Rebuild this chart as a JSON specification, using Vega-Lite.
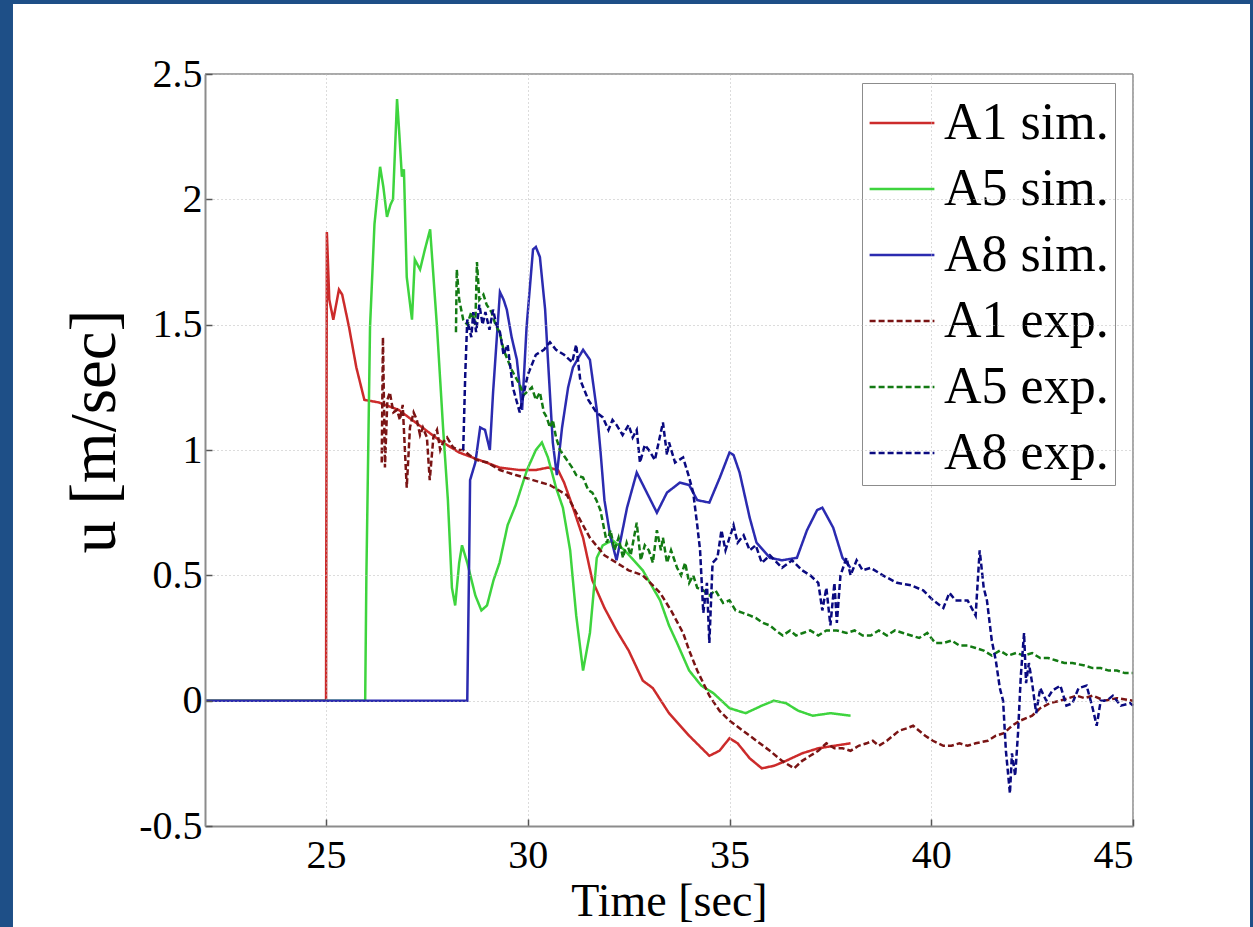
{
  "$schema": "https://vega.github.io/schema/vega-lite/v6.json",
  "width": 928,
  "height": 752,
  "autosize": "none",
  "padding": {"left": 205, "top": 74, "right": 120, "bottom": 101},
  "background": "#1e4f87",
  "config": {
    "view": {"stroke": null},
    "font": "Liberation Serif",
    "axis": {
      "domainColor": "#8c8c8c", "domainWidth": 2,
      "tickColor": "#555555", "tickSize": -7, "tickWidth": 1.5,
      "gridColor": "#b8b8b8", "gridDash": [1, 3], "gridWidth": 1,
      "labelFont": "Liberation Serif", "labelFontSize": 40, "labelColor": "#000000",
      "titleFont": "Liberation Serif", "titleFontWeight": "normal", "titleColor": "#000000"
    },
    "legend": {"labelFont": "Liberation Serif"}
  },
  "datasets": {
    "pts": [
      {"t":22,"u":0,"s":"A1 sim."},{"t":25.0,"u":0,"s":"A1 sim."},{"t":25.02,"u":1.87,"s":"A1 sim."},{"t":25.08,"u":1.6,"s":"A1 sim."},{"t":25.18,"u":1.52,"s":"A1 sim."},{"t":25.32,"u":1.64,"s":"A1 sim."},{"t":25.4,"u":1.62,"s":"A1 sim."},{"t":25.57,"u":1.49,"s":"A1 sim."},{"t":25.75,"u":1.33,"s":"A1 sim."},{"t":25.95,"u":1.2,"s":"A1 sim."},{"t":26.3,"u":1.19,"s":"A1 sim."},{"t":26.8,"u":1.16,"s":"A1 sim."},{"t":27.3,"u":1.1,"s":"A1 sim."},{"t":27.8,"u":1.04,"s":"A1 sim."},{"t":28.3,"u":0.99,"s":"A1 sim."},{"t":28.8,"u":0.96,"s":"A1 sim."},{"t":29.3,"u":0.93,"s":"A1 sim."},{"t":29.8,"u":0.92,"s":"A1 sim."},{"t":30.2,"u":0.92,"s":"A1 sim."},{"t":30.5,"u":0.93,"s":"A1 sim."},{"t":30.75,"u":0.92,"s":"A1 sim."},{"t":30.9,"u":0.87,"s":"A1 sim."},{"t":31.1,"u":0.78,"s":"A1 sim."},{"t":31.37,"u":0.65,"s":"A1 sim."},{"t":31.6,"u":0.48,"s":"A1 sim."},{"t":31.9,"u":0.37,"s":"A1 sim."},{"t":32.2,"u":0.28,"s":"A1 sim."},{"t":32.5,"u":0.2,"s":"A1 sim."},{"t":32.85,"u":0.08,"s":"A1 sim."},{"t":33.1,"u":0.05,"s":"A1 sim."},{"t":33.5,"u":-0.05,"s":"A1 sim."},{"t":34.0,"u":-0.14,"s":"A1 sim."},{"t":34.5,"u":-0.22,"s":"A1 sim."},{"t":34.75,"u":-0.2,"s":"A1 sim."},{"t":35.0,"u":-0.15,"s":"A1 sim."},{"t":35.2,"u":-0.17,"s":"A1 sim."},{"t":35.5,"u":-0.23,"s":"A1 sim."},{"t":35.8,"u":-0.27,"s":"A1 sim."},{"t":36.1,"u":-0.26,"s":"A1 sim."},{"t":36.4,"u":-0.24,"s":"A1 sim."},{"t":36.8,"u":-0.21,"s":"A1 sim."},{"t":37.2,"u":-0.19,"s":"A1 sim."},{"t":37.6,"u":-0.18,"s":"A1 sim."},{"t":38.0,"u":-0.17,"s":"A1 sim."},

      {"t":22,"u":0,"s":"A5 sim."},{"t":25.97,"u":0,"s":"A5 sim."},{"t":26.0,"u":0.5,"s":"A5 sim."},{"t":26.09,"u":1.49,"s":"A5 sim."},{"t":26.2,"u":1.9,"s":"A5 sim."},{"t":26.34,"u":2.13,"s":"A5 sim."},{"t":26.42,"u":2.05,"s":"A5 sim."},{"t":26.51,"u":1.93,"s":"A5 sim."},{"t":26.6,"u":1.98,"s":"A5 sim."},{"t":26.66,"u":2.0,"s":"A5 sim."},{"t":26.76,"u":2.4,"s":"A5 sim."},{"t":26.82,"u":2.25,"s":"A5 sim."},{"t":26.88,"u":2.09,"s":"A5 sim."},{"t":26.93,"u":2.12,"s":"A5 sim."},{"t":27.0,"u":1.69,"s":"A5 sim."},{"t":27.13,"u":1.52,"s":"A5 sim."},{"t":27.2,"u":1.76,"s":"A5 sim."},{"t":27.33,"u":1.72,"s":"A5 sim."},{"t":27.45,"u":1.8,"s":"A5 sim."},{"t":27.58,"u":1.88,"s":"A5 sim."},{"t":27.75,"u":1.49,"s":"A5 sim."},{"t":27.9,"u":1.09,"s":"A5 sim."},{"t":28.02,"u":0.8,"s":"A5 sim."},{"t":28.12,"u":0.45,"s":"A5 sim."},{"t":28.2,"u":0.38,"s":"A5 sim."},{"t":28.3,"u":0.55,"s":"A5 sim."},{"t":28.37,"u":0.62,"s":"A5 sim."},{"t":28.5,"u":0.55,"s":"A5 sim."},{"t":28.7,"u":0.42,"s":"A5 sim."},{"t":28.85,"u":0.36,"s":"A5 sim."},{"t":28.99,"u":0.38,"s":"A5 sim."},{"t":29.15,"u":0.48,"s":"A5 sim."},{"t":29.3,"u":0.55,"s":"A5 sim."},{"t":29.5,"u":0.7,"s":"A5 sim."},{"t":29.7,"u":0.78,"s":"A5 sim."},{"t":29.98,"u":0.92,"s":"A5 sim."},{"t":30.2,"u":1.0,"s":"A5 sim."},{"t":30.35,"u":1.03,"s":"A5 sim."},{"t":30.5,"u":0.97,"s":"A5 sim."},{"t":30.7,"u":0.85,"s":"A5 sim."},{"t":30.87,"u":0.77,"s":"A5 sim."},{"t":31.05,"u":0.6,"s":"A5 sim."},{"t":31.2,"u":0.34,"s":"A5 sim."},{"t":31.37,"u":0.12,"s":"A5 sim."},{"t":31.54,"u":0.27,"s":"A5 sim."},{"t":31.71,"u":0.57,"s":"A5 sim."},{"t":31.86,"u":0.62,"s":"A5 sim."},{"t":32.1,"u":0.64,"s":"A5 sim."},{"t":32.4,"u":0.6,"s":"A5 sim."},{"t":32.85,"u":0.52,"s":"A5 sim."},{"t":33.28,"u":0.4,"s":"A5 sim."},{"t":33.5,"u":0.3,"s":"A5 sim."},{"t":33.7,"u":0.23,"s":"A5 sim."},{"t":34.0,"u":0.12,"s":"A5 sim."},{"t":34.3,"u":0.06,"s":"A5 sim."},{"t":34.6,"u":0.03,"s":"A5 sim."},{"t":35.0,"u":-0.03,"s":"A5 sim."},{"t":35.4,"u":-0.05,"s":"A5 sim."},{"t":35.8,"u":-0.02,"s":"A5 sim."},{"t":36.1,"u":0.0,"s":"A5 sim."},{"t":36.4,"u":-0.01,"s":"A5 sim."},{"t":36.7,"u":-0.04,"s":"A5 sim."},{"t":37.06,"u":-0.06,"s":"A5 sim."},{"t":37.5,"u":-0.05,"s":"A5 sim."},{"t":38.0,"u":-0.06,"s":"A5 sim."},

      {"t":22,"u":0,"s":"A8 sim."},{"t":28.5,"u":0,"s":"A8 sim."},{"t":28.55,"u":0.6,"s":"A8 sim."},{"t":28.57,"u":0.88,"s":"A8 sim."},{"t":28.7,"u":0.95,"s":"A8 sim."},{"t":28.82,"u":1.09,"s":"A8 sim."},{"t":28.94,"u":1.08,"s":"A8 sim."},{"t":29.06,"u":1.0,"s":"A8 sim."},{"t":29.14,"u":1.23,"s":"A8 sim."},{"t":29.31,"u":1.63,"s":"A8 sim."},{"t":29.4,"u":1.6,"s":"A8 sim."},{"t":29.48,"u":1.56,"s":"A8 sim."},{"t":29.6,"u":1.45,"s":"A8 sim."},{"t":29.73,"u":1.36,"s":"A8 sim."},{"t":29.86,"u":1.16,"s":"A8 sim."},{"t":29.97,"u":1.49,"s":"A8 sim."},{"t":30.13,"u":1.8,"s":"A8 sim."},{"t":30.2,"u":1.81,"s":"A8 sim."},{"t":30.3,"u":1.77,"s":"A8 sim."},{"t":30.43,"u":1.56,"s":"A8 sim."},{"t":30.5,"u":1.36,"s":"A8 sim."},{"t":30.62,"u":1.03,"s":"A8 sim."},{"t":30.72,"u":0.9,"s":"A8 sim."},{"t":30.85,"u":1.09,"s":"A8 sim."},{"t":31.0,"u":1.25,"s":"A8 sim."},{"t":31.12,"u":1.33,"s":"A8 sim."},{"t":31.37,"u":1.4,"s":"A8 sim."},{"t":31.54,"u":1.36,"s":"A8 sim."},{"t":31.71,"u":1.16,"s":"A8 sim."},{"t":31.8,"u":1.0,"s":"A8 sim."},{"t":31.9,"u":0.8,"s":"A8 sim."},{"t":32.04,"u":0.66,"s":"A8 sim."},{"t":32.2,"u":0.56,"s":"A8 sim."},{"t":32.46,"u":0.77,"s":"A8 sim."},{"t":32.7,"u":0.91,"s":"A8 sim."},{"t":32.95,"u":0.83,"s":"A8 sim."},{"t":33.2,"u":0.75,"s":"A8 sim."},{"t":33.45,"u":0.83,"s":"A8 sim."},{"t":33.77,"u":0.87,"s":"A8 sim."},{"t":34.0,"u":0.86,"s":"A8 sim."},{"t":34.2,"u":0.8,"s":"A8 sim."},{"t":34.5,"u":0.79,"s":"A8 sim."},{"t":34.76,"u":0.89,"s":"A8 sim."},{"t":35.0,"u":0.99,"s":"A8 sim."},{"t":35.1,"u":0.98,"s":"A8 sim."},{"t":35.25,"u":0.91,"s":"A8 sim."},{"t":35.5,"u":0.73,"s":"A8 sim."},{"t":35.67,"u":0.63,"s":"A8 sim."},{"t":36.0,"u":0.57,"s":"A8 sim."},{"t":36.3,"u":0.56,"s":"A8 sim."},{"t":36.67,"u":0.57,"s":"A8 sim."},{"t":36.92,"u":0.68,"s":"A8 sim."},{"t":37.17,"u":0.76,"s":"A8 sim."},{"t":37.3,"u":0.77,"s":"A8 sim."},{"t":37.57,"u":0.69,"s":"A8 sim."},{"t":37.8,"u":0.57,"s":"A8 sim."},{"t":38.0,"u":0.53,"s":"A8 sim."},

      {"t":26.38,"u":0.95,"s":"A1 exp."},{"t":26.41,"u":1.45,"s":"A1 exp."},{"t":26.46,"u":0.93,"s":"A1 exp."},{"t":26.52,"u":1.2,"s":"A1 exp."},{"t":26.58,"u":1.23,"s":"A1 exp."},{"t":26.67,"u":1.15,"s":"A1 exp."},{"t":26.76,"u":1.16,"s":"A1 exp."},{"t":26.83,"u":1.12,"s":"A1 exp."},{"t":26.9,"u":1.18,"s":"A1 exp."},{"t":27.0,"u":0.85,"s":"A1 exp."},{"t":27.08,"u":1.09,"s":"A1 exp."},{"t":27.17,"u":1.15,"s":"A1 exp."},{"t":27.25,"u":1.12,"s":"A1 exp."},{"t":27.33,"u":1.06,"s":"A1 exp."},{"t":27.4,"u":1.09,"s":"A1 exp."},{"t":27.5,"u":1.05,"s":"A1 exp."},{"t":27.57,"u":0.88,"s":"A1 exp."},{"t":27.66,"u":1.05,"s":"A1 exp."},{"t":27.75,"u":1.08,"s":"A1 exp."},{"t":27.83,"u":1.0,"s":"A1 exp."},{"t":27.9,"u":1.03,"s":"A1 exp."},{"t":28.0,"u":1.05,"s":"A1 exp."},{"t":28.15,"u":1.01,"s":"A1 exp."},{"t":28.3,"u":1.0,"s":"A1 exp."},{"t":28.4,"u":1.0,"s":"A1 exp."},{"t":28.55,"u":0.98,"s":"A1 exp."},{"t":28.74,"u":0.96,"s":"A1 exp."},{"t":29.0,"u":0.95,"s":"A1 exp."},{"t":29.31,"u":0.92,"s":"A1 exp."},{"t":29.7,"u":0.9,"s":"A1 exp."},{"t":30.13,"u":0.88,"s":"A1 exp."},{"t":30.55,"u":0.86,"s":"A1 exp."},{"t":30.97,"u":0.82,"s":"A1 exp."},{"t":31.3,"u":0.72,"s":"A1 exp."},{"t":31.54,"u":0.65,"s":"A1 exp."},{"t":31.9,"u":0.58,"s":"A1 exp."},{"t":32.2,"u":0.55,"s":"A1 exp."},{"t":32.5,"u":0.52,"s":"A1 exp."},{"t":32.85,"u":0.5,"s":"A1 exp."},{"t":33.1,"u":0.46,"s":"A1 exp."},{"t":33.28,"u":0.43,"s":"A1 exp."},{"t":33.55,"u":0.36,"s":"A1 exp."},{"t":33.85,"u":0.27,"s":"A1 exp."},{"t":34.0,"u":0.2,"s":"A1 exp."},{"t":34.2,"u":0.12,"s":"A1 exp."},{"t":34.35,"u":0.07,"s":"A1 exp."},{"t":34.5,"u":0.02,"s":"A1 exp."},{"t":34.75,"u":-0.04,"s":"A1 exp."},{"t":35.0,"u":-0.08,"s":"A1 exp."},{"t":35.25,"u":-0.11,"s":"A1 exp."},{"t":35.5,"u":-0.14,"s":"A1 exp."},{"t":35.75,"u":-0.17,"s":"A1 exp."},{"t":36.0,"u":-0.2,"s":"A1 exp."},{"t":36.3,"u":-0.24,"s":"A1 exp."},{"t":36.6,"u":-0.27,"s":"A1 exp."},{"t":36.8,"u":-0.24,"s":"A1 exp."},{"t":37.0,"u":-0.22,"s":"A1 exp."},{"t":37.2,"u":-0.2,"s":"A1 exp."},{"t":37.4,"u":-0.17,"s":"A1 exp."},{"t":37.6,"u":-0.19,"s":"A1 exp."},{"t":37.8,"u":-0.19,"s":"A1 exp."},{"t":38.0,"u":-0.2,"s":"A1 exp."},{"t":38.2,"u":-0.18,"s":"A1 exp."},{"t":38.4,"u":-0.17,"s":"A1 exp."},{"t":38.55,"u":-0.16,"s":"A1 exp."},{"t":38.7,"u":-0.18,"s":"A1 exp."},{"t":38.9,"u":-0.16,"s":"A1 exp."},{"t":39.2,"u":-0.12,"s":"A1 exp."},{"t":39.4,"u":-0.11,"s":"A1 exp."},{"t":39.55,"u":-0.1,"s":"A1 exp."},{"t":39.7,"u":-0.12,"s":"A1 exp."},{"t":39.85,"u":-0.14,"s":"A1 exp."},{"t":40.04,"u":-0.16,"s":"A1 exp."},{"t":40.3,"u":-0.18,"s":"A1 exp."},{"t":40.5,"u":-0.18,"s":"A1 exp."},{"t":40.7,"u":-0.17,"s":"A1 exp."},{"t":40.9,"u":-0.18,"s":"A1 exp."},{"t":41.1,"u":-0.17,"s":"A1 exp."},{"t":41.4,"u":-0.16,"s":"A1 exp."},{"t":41.6,"u":-0.14,"s":"A1 exp."},{"t":41.8,"u":-0.13,"s":"A1 exp."},{"t":42.0,"u":-0.1,"s":"A1 exp."},{"t":42.2,"u":-0.08,"s":"A1 exp."},{"t":42.5,"u":-0.06,"s":"A1 exp."},{"t":42.7,"u":-0.03,"s":"A1 exp."},{"t":42.94,"u":-0.01,"s":"A1 exp."},{"t":43.2,"u":0.0,"s":"A1 exp."},{"t":43.6,"u":0.02,"s":"A1 exp."},{"t":43.8,"u":0.01,"s":"A1 exp."},{"t":44.0,"u":0.02,"s":"A1 exp."},{"t":44.3,"u":0.0,"s":"A1 exp."},{"t":44.6,"u":0.01,"s":"A1 exp."},{"t":45.0,"u":0.0,"s":"A1 exp."},

      {"t":28.22,"u":1.47,"s":"A5 exp."},{"t":28.24,"u":1.72,"s":"A5 exp."},{"t":28.3,"u":1.6,"s":"A5 exp."},{"t":28.4,"u":1.52,"s":"A5 exp."},{"t":28.5,"u":1.5,"s":"A5 exp."},{"t":28.6,"u":1.55,"s":"A5 exp."},{"t":28.7,"u":1.5,"s":"A5 exp."},{"t":28.74,"u":1.75,"s":"A5 exp."},{"t":28.8,"u":1.6,"s":"A5 exp."},{"t":28.9,"u":1.62,"s":"A5 exp."},{"t":28.98,"u":1.58,"s":"A5 exp."},{"t":29.1,"u":1.55,"s":"A5 exp."},{"t":29.2,"u":1.5,"s":"A5 exp."},{"t":29.3,"u":1.47,"s":"A5 exp."},{"t":29.4,"u":1.4,"s":"A5 exp."},{"t":29.5,"u":1.36,"s":"A5 exp."},{"t":29.6,"u":1.32,"s":"A5 exp."},{"t":29.7,"u":1.29,"s":"A5 exp."},{"t":29.8,"u":1.26,"s":"A5 exp."},{"t":29.9,"u":1.22,"s":"A5 exp."},{"t":29.97,"u":1.23,"s":"A5 exp."},{"t":30.1,"u":1.25,"s":"A5 exp."},{"t":30.2,"u":1.2,"s":"A5 exp."},{"t":30.3,"u":1.23,"s":"A5 exp."},{"t":30.4,"u":1.15,"s":"A5 exp."},{"t":30.47,"u":1.13,"s":"A5 exp."},{"t":30.55,"u":1.09,"s":"A5 exp."},{"t":30.62,"u":1.12,"s":"A5 exp."},{"t":30.7,"u":1.05,"s":"A5 exp."},{"t":30.8,"u":1.0,"s":"A5 exp."},{"t":30.97,"u":0.96,"s":"A5 exp."},{"t":31.1,"u":0.93,"s":"A5 exp."},{"t":31.2,"u":0.9,"s":"A5 exp."},{"t":31.37,"u":0.89,"s":"A5 exp."},{"t":31.5,"u":0.84,"s":"A5 exp."},{"t":31.6,"u":0.83,"s":"A5 exp."},{"t":31.7,"u":0.8,"s":"A5 exp."},{"t":31.8,"u":0.76,"s":"A5 exp."},{"t":31.96,"u":0.63,"s":"A5 exp."},{"t":32.05,"u":0.68,"s":"A5 exp."},{"t":32.15,"u":0.6,"s":"A5 exp."},{"t":32.25,"u":0.65,"s":"A5 exp."},{"t":32.36,"u":0.57,"s":"A5 exp."},{"t":32.45,"u":0.63,"s":"A5 exp."},{"t":32.55,"u":0.58,"s":"A5 exp."},{"t":32.7,"u":0.71,"s":"A5 exp."},{"t":32.8,"u":0.56,"s":"A5 exp."},{"t":32.9,"u":0.62,"s":"A5 exp."},{"t":33.0,"u":0.6,"s":"A5 exp."},{"t":33.1,"u":0.55,"s":"A5 exp."},{"t":33.2,"u":0.68,"s":"A5 exp."},{"t":33.3,"u":0.6,"s":"A5 exp."},{"t":33.35,"u":0.65,"s":"A5 exp."},{"t":33.45,"u":0.55,"s":"A5 exp."},{"t":33.55,"u":0.6,"s":"A5 exp."},{"t":33.7,"u":0.53,"s":"A5 exp."},{"t":33.8,"u":0.5,"s":"A5 exp."},{"t":33.9,"u":0.55,"s":"A5 exp."},{"t":34.0,"u":0.47,"s":"A5 exp."},{"t":34.1,"u":0.5,"s":"A5 exp."},{"t":34.2,"u":0.45,"s":"A5 exp."},{"t":34.35,"u":0.44,"s":"A5 exp."},{"t":34.5,"u":0.42,"s":"A5 exp."},{"t":34.65,"u":0.44,"s":"A5 exp."},{"t":34.84,"u":0.39,"s":"A5 exp."},{"t":35.0,"u":0.4,"s":"A5 exp."},{"t":35.15,"u":0.36,"s":"A5 exp."},{"t":35.33,"u":0.35,"s":"A5 exp."},{"t":35.5,"u":0.34,"s":"A5 exp."},{"t":35.65,"u":0.33,"s":"A5 exp."},{"t":35.83,"u":0.31,"s":"A5 exp."},{"t":36.0,"u":0.3,"s":"A5 exp."},{"t":36.15,"u":0.28,"s":"A5 exp."},{"t":36.32,"u":0.26,"s":"A5 exp."},{"t":36.5,"u":0.28,"s":"A5 exp."},{"t":36.65,"u":0.26,"s":"A5 exp."},{"t":36.82,"u":0.27,"s":"A5 exp."},{"t":37.0,"u":0.28,"s":"A5 exp."},{"t":37.2,"u":0.26,"s":"A5 exp."},{"t":37.4,"u":0.28,"s":"A5 exp."},{"t":37.66,"u":0.28,"s":"A5 exp."},{"t":37.9,"u":0.27,"s":"A5 exp."},{"t":38.1,"u":0.28,"s":"A5 exp."},{"t":38.3,"u":0.26,"s":"A5 exp."},{"t":38.5,"u":0.26,"s":"A5 exp."},{"t":38.7,"u":0.28,"s":"A5 exp."},{"t":38.9,"u":0.26,"s":"A5 exp."},{"t":39.1,"u":0.28,"s":"A5 exp."},{"t":39.3,"u":0.27,"s":"A5 exp."},{"t":39.5,"u":0.26,"s":"A5 exp."},{"t":39.7,"u":0.25,"s":"A5 exp."},{"t":39.9,"u":0.27,"s":"A5 exp."},{"t":40.1,"u":0.23,"s":"A5 exp."},{"t":40.3,"u":0.23,"s":"A5 exp."},{"t":40.5,"u":0.24,"s":"A5 exp."},{"t":40.7,"u":0.22,"s":"A5 exp."},{"t":40.9,"u":0.22,"s":"A5 exp."},{"t":41.1,"u":0.21,"s":"A5 exp."},{"t":41.3,"u":0.2,"s":"A5 exp."},{"t":41.5,"u":0.18,"s":"A5 exp."},{"t":41.7,"u":0.2,"s":"A5 exp."},{"t":41.9,"u":0.18,"s":"A5 exp."},{"t":42.1,"u":0.19,"s":"A5 exp."},{"t":42.3,"u":0.18,"s":"A5 exp."},{"t":42.5,"u":0.19,"s":"A5 exp."},{"t":42.7,"u":0.17,"s":"A5 exp."},{"t":42.9,"u":0.17,"s":"A5 exp."},{"t":43.1,"u":0.16,"s":"A5 exp."},{"t":43.3,"u":0.15,"s":"A5 exp."},{"t":43.5,"u":0.15,"s":"A5 exp."},{"t":43.8,"u":0.14,"s":"A5 exp."},{"t":44.0,"u":0.13,"s":"A5 exp."},{"t":44.2,"u":0.13,"s":"A5 exp."},{"t":44.4,"u":0.12,"s":"A5 exp."},{"t":44.6,"u":0.12,"s":"A5 exp."},{"t":44.8,"u":0.11,"s":"A5 exp."},{"t":45.0,"u":0.11,"s":"A5 exp."},

      {"t":28.4,"u":1.0,"s":"A8 exp."},{"t":28.45,"u":1.3,"s":"A8 exp."},{"t":28.5,"u":1.52,"s":"A8 exp."},{"t":28.6,"u":1.45,"s":"A8 exp."},{"t":28.65,"u":1.55,"s":"A8 exp."},{"t":28.72,"u":1.47,"s":"A8 exp."},{"t":28.8,"u":1.58,"s":"A8 exp."},{"t":28.88,"u":1.5,"s":"A8 exp."},{"t":28.95,"u":1.55,"s":"A8 exp."},{"t":29.05,"u":1.48,"s":"A8 exp."},{"t":29.14,"u":1.56,"s":"A8 exp."},{"t":29.22,"u":1.5,"s":"A8 exp."},{"t":29.31,"u":1.47,"s":"A8 exp."},{"t":29.4,"u":1.38,"s":"A8 exp."},{"t":29.5,"u":1.42,"s":"A8 exp."},{"t":29.63,"u":1.25,"s":"A8 exp."},{"t":29.8,"u":1.15,"s":"A8 exp."},{"t":30.0,"u":1.3,"s":"A8 exp."},{"t":30.2,"u":1.38,"s":"A8 exp."},{"t":30.4,"u":1.4,"s":"A8 exp."},{"t":30.55,"u":1.43,"s":"A8 exp."},{"t":30.7,"u":1.4,"s":"A8 exp."},{"t":30.9,"u":1.38,"s":"A8 exp."},{"t":31.1,"u":1.35,"s":"A8 exp."},{"t":31.2,"u":1.42,"s":"A8 exp."},{"t":31.3,"u":1.28,"s":"A8 exp."},{"t":31.5,"u":1.2,"s":"A8 exp."},{"t":31.7,"u":1.15,"s":"A8 exp."},{"t":31.86,"u":1.13,"s":"A8 exp."},{"t":32.0,"u":1.08,"s":"A8 exp."},{"t":32.1,"u":1.12,"s":"A8 exp."},{"t":32.2,"u":1.1,"s":"A8 exp."},{"t":32.35,"u":1.06,"s":"A8 exp."},{"t":32.5,"u":1.1,"s":"A8 exp."},{"t":32.6,"u":1.05,"s":"A8 exp."},{"t":32.7,"u":1.08,"s":"A8 exp."},{"t":32.78,"u":0.95,"s":"A8 exp."},{"t":32.9,"u":1.02,"s":"A8 exp."},{"t":33.0,"u":1.0,"s":"A8 exp."},{"t":33.15,"u":0.96,"s":"A8 exp."},{"t":33.35,"u":1.11,"s":"A8 exp."},{"t":33.45,"u":0.98,"s":"A8 exp."},{"t":33.5,"u":1.03,"s":"A8 exp."},{"t":33.65,"u":0.95,"s":"A8 exp."},{"t":33.85,"u":0.97,"s":"A8 exp."},{"t":34.0,"u":0.89,"s":"A8 exp."},{"t":34.1,"u":0.83,"s":"A8 exp."},{"t":34.2,"u":0.7,"s":"A8 exp."},{"t":34.27,"u":0.6,"s":"A8 exp."},{"t":34.35,"u":0.35,"s":"A8 exp."},{"t":34.44,"u":0.47,"s":"A8 exp."},{"t":34.5,"u":0.23,"s":"A8 exp."},{"t":34.58,"u":0.55,"s":"A8 exp."},{"t":34.7,"u":0.57,"s":"A8 exp."},{"t":34.8,"u":0.68,"s":"A8 exp."},{"t":34.9,"u":0.6,"s":"A8 exp."},{"t":35.0,"u":0.65,"s":"A8 exp."},{"t":35.1,"u":0.7,"s":"A8 exp."},{"t":35.2,"u":0.63,"s":"A8 exp."},{"t":35.35,"u":0.66,"s":"A8 exp."},{"t":35.5,"u":0.6,"s":"A8 exp."},{"t":35.65,"u":0.62,"s":"A8 exp."},{"t":35.8,"u":0.55,"s":"A8 exp."},{"t":36.0,"u":0.58,"s":"A8 exp."},{"t":36.3,"u":0.53,"s":"A8 exp."},{"t":36.55,"u":0.56,"s":"A8 exp."},{"t":36.8,"u":0.52,"s":"A8 exp."},{"t":37.0,"u":0.5,"s":"A8 exp."},{"t":37.2,"u":0.47,"s":"A8 exp."},{"t":37.3,"u":0.36,"s":"A8 exp."},{"t":37.4,"u":0.45,"s":"A8 exp."},{"t":37.5,"u":0.3,"s":"A8 exp."},{"t":37.6,"u":0.47,"s":"A8 exp."},{"t":37.66,"u":0.31,"s":"A8 exp."},{"t":37.75,"u":0.5,"s":"A8 exp."},{"t":37.9,"u":0.57,"s":"A8 exp."},{"t":38.0,"u":0.5,"s":"A8 exp."},{"t":38.15,"u":0.56,"s":"A8 exp."},{"t":38.3,"u":0.52,"s":"A8 exp."},{"t":38.5,"u":0.53,"s":"A8 exp."},{"t":38.8,"u":0.5,"s":"A8 exp."},{"t":39.15,"u":0.47,"s":"A8 exp."},{"t":39.5,"u":0.46,"s":"A8 exp."},{"t":39.8,"u":0.44,"s":"A8 exp."},{"t":40.05,"u":0.4,"s":"A8 exp."},{"t":40.3,"u":0.37,"s":"A8 exp."},{"t":40.45,"u":0.43,"s":"A8 exp."},{"t":40.6,"u":0.4,"s":"A8 exp."},{"t":40.9,"u":0.4,"s":"A8 exp."},{"t":41.1,"u":0.34,"s":"A8 exp."},{"t":41.2,"u":0.6,"s":"A8 exp."},{"t":41.3,"u":0.45,"s":"A8 exp."},{"t":41.38,"u":0.4,"s":"A8 exp."},{"t":41.5,"u":0.24,"s":"A8 exp."},{"t":41.6,"u":0.16,"s":"A8 exp."},{"t":41.7,"u":0.05,"s":"A8 exp."},{"t":41.78,"u":0.0,"s":"A8 exp."},{"t":41.85,"u":-0.2,"s":"A8 exp."},{"t":41.95,"u":-0.37,"s":"A8 exp."},{"t":42.0,"u":-0.21,"s":"A8 exp."},{"t":42.08,"u":-0.3,"s":"A8 exp."},{"t":42.15,"u":-0.13,"s":"A8 exp."},{"t":42.22,"u":0.1,"s":"A8 exp."},{"t":42.3,"u":0.27,"s":"A8 exp."},{"t":42.35,"u":0.07,"s":"A8 exp."},{"t":42.42,"u":0.15,"s":"A8 exp."},{"t":42.5,"u":0.07,"s":"A8 exp."},{"t":42.6,"u":-0.05,"s":"A8 exp."},{"t":42.7,"u":0.05,"s":"A8 exp."},{"t":42.85,"u":0.0,"s":"A8 exp."},{"t":43.0,"u":0.04,"s":"A8 exp."},{"t":43.2,"u":0.06,"s":"A8 exp."},{"t":43.35,"u":-0.02,"s":"A8 exp."},{"t":43.5,"u":-0.01,"s":"A8 exp."},{"t":43.65,"u":0.05,"s":"A8 exp."},{"t":43.85,"u":0.06,"s":"A8 exp."},{"t":44.0,"u":-0.03,"s":"A8 exp."},{"t":44.1,"u":-0.1,"s":"A8 exp."},{"t":44.2,"u":0.0,"s":"A8 exp."},{"t":44.35,"u":0.0,"s":"A8 exp."},{"t":44.5,"u":0.02,"s":"A8 exp."},{"t":44.7,"u":-0.02,"s":"A8 exp."},{"t":44.93,"u":-0.01,"s":"A8 exp."},{"t":45.0,"u":-0.02,"s":"A8 exp."}
    ]
  },
  "layer": [
    {
      "data": {"values": [{}]},
      "mark": {"type": "rect", "fill": "#ffffff"},
      "encoding": {
        "x": {"datum": 17.241, "type": "quantitative"},
        "x2": {"datum": 47.9},
        "y": {"datum": 2.779, "type": "quantitative"},
        "y2": {"datum": -1.0}
      }
    },
    {
      "data": {"name": "pts"},
      "mark": {"type": "line", "strokeWidth": 2.5},
      "encoding": {
        "x": {
          "field": "t", "type": "quantitative",
          "scale": {"domain": [22, 45], "nice": false, "zero": false},
          "axis": {
            "values": [25, 30, 35, 40, 45], "title": "Time [sec]",
            "labelFont": "Liberation Serif", "titleFont": "Liberation Serif",
            "titleFontSize": 46, "titleBaseline": "alphabetic", "titleY": 89,
            "labelPadding": 16, "grid": true, "zindex": 1
          }
        },
        "y": {
          "field": "u", "type": "quantitative",
          "scale": {"domain": [-0.5, 2.5], "nice": false, "zero": false},
          "axis": {
            "values": [-0.5, 0, 0.5, 1, 1.5, 2, 2.5], "title": "u [m/sec]",
            "labelExpr": "'' + datum.value",
            "labelFont": "Liberation Serif", "titleFont": "Liberation Serif",
            "titleFontSize": 65, "titleBaseline": "alphabetic", "titleX": -91, "titleY": 357,
            "labelPadding": 10, "grid": true, "zindex": 1
          }
        },
        "color": {
          "field": "s", "type": "nominal",
          "scale": {
            "domain": ["A1 sim.", "A5 sim.", "A8 sim.", "A1 exp.", "A5 exp.", "A8 exp."],
            "range": ["#cc2b2b", "#3ed43e", "#2b2bb0", "#7a1414", "#137a13", "#0a0a80"]
          },
          "legend": {
            "title": null, "orient": "none", "legendX": 657, "legendY": 9,
            "fillColor": "#ffffff", "strokeColor": "#8c8c8c", "padding": 6,
            "symbolType": "stroke", "symbolSize": 4200, "symbolStrokeWidth": 2.5,
            "labelFont": "Liberation Serif", "labelFontSize": 52, "labelColor": "#000000",
            "labelOffset": 8, "labelLimit": 400, "rowPadding": 6
          }
        },
        "strokeDash": {
          "field": "s", "type": "nominal",
          "scale": {
            "domain": ["A1 sim.", "A5 sim.", "A8 sim.", "A1 exp.", "A5 exp.", "A8 exp."],
            "range": [[1, 0], [1, 0], [1, 0], [6, 3], [6, 3], [6, 3]]
          },
          "legend": {
            "title": null, "orient": "none", "legendX": 657, "legendY": 9,
            "fillColor": "#ffffff", "strokeColor": "#8c8c8c", "padding": 6,
            "symbolType": "stroke", "symbolSize": 4200, "symbolStrokeWidth": 2.5,
            "labelFont": "Liberation Serif", "labelFontSize": 52, "labelColor": "#000000",
            "labelOffset": 8, "labelLimit": 400, "rowPadding": 6
          }
        }
      }
    },
    {
      "data": {"values": [{}]},
      "mark": {"type": "rule", "color": "#8c8c8c", "strokeWidth": 1.5},
      "encoding": {"x": {"datum": 45, "type": "quantitative"}}
    },
    {
      "data": {"values": [{}]},
      "mark": {"type": "rule", "color": "#8c8c8c", "strokeWidth": 1.5},
      "encoding": {"y": {"datum": 2.5, "type": "quantitative"}}
    }
  ]
}
